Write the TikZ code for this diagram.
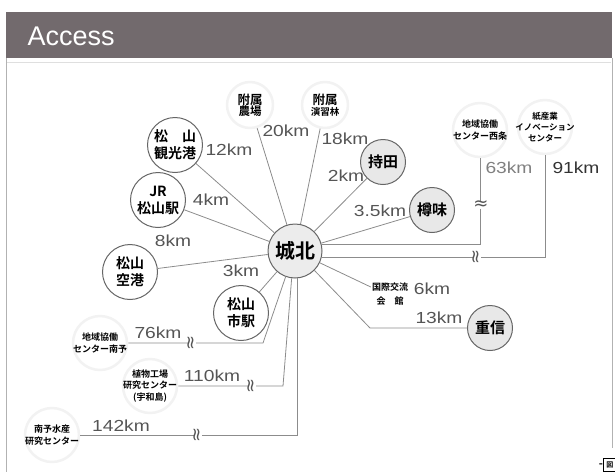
\documentclass[tikz,border=0pt]{standalone}
\usepackage{fontspec}
\setmainfont{Liberation Sans}
\newfontfamily\jp{Noto Sans CJK JP}[BoldFont={Noto Sans CJK JP Bold}]
\newfontfamily\kmfont{Liberation Sans}[FakeStretch=1.2]
\newfontfamily\sym{DejaVu Sans}
\definecolor{barcol}{HTML}{726A6D}
\definecolor{linecol}{HTML}{8C8C8C}
\definecolor{rimcol}{HTML}{666666}
\definecolor{labcol}{HTML}{555555}
\begin{document}
\begin{tikzpicture}[x=1pt,y=-1pt,
  station/.style={circle,draw=rimcol,line width=1pt,fill=white,minimum size=55pt,inner sep=0pt,align=center,font=\jp\bfseries\fontsize{14}{17}\selectfont},
  campus/.style={station,fill=gray!18,minimum size=45pt,font=\jp\bfseries\fontsize{15}{17}\selectfont},
  hub/.style={station,fill=gray!15,minimum size=54pt,font=\jp\bfseries\fontsize{20}{22}\selectfont},
  facility/.style={circle,draw=gray!10,line width=2.5pt,fill=white,minimum size=54pt,inner sep=0pt,align=center,font=\jp\bfseries\fontsize{9}{11.5}\selectfont},
  dist/.style={text=labcol,font=\kmfont\fontsize{16}{16}\selectfont,inner sep=0pt},
  link/.style={draw=linecol,line width=0.8pt},
  brk/.style={fill=white,inner sep=0pt,text=labcol,font=\sym\fontsize{18}{18}\selectfont}]
\useasboundingbox (0,0) rectangle (615,472);
% frame and title bar
\draw[gray!60,line width=0.8pt] (6,58) -- (6,472) (612,58) -- (612,448);
\draw[gray!25] (7,62) -- (611,62);
\fill[barcol] (6,12) rectangle (612,58);
\node[anchor=west,text=white,font=\fontsize{27}{27}\selectfont] (title) at (24,36) {Access};
\node[anchor=east,inner sep=0pt,font=\jp\bfseries\fontsize{11}{11}\selectfont] (fig) at (617,465) {-\fbox{\fontsize{7}{7}\selectfont 図}};

% campus and stations
\node[hub] (johoku) at (295,251) {城北};
\node[station] (kanko) at (175,145) {松　山\\観光港};
\node[station] (jr) at (158,200) {JR\\松山駅};
\node[station] (kuko) at (130,272) {松山\\空港};
\node[station] (shieki) at (241,313) {松山\\市駅};
\node[campus] (mochida) at (383,162) {持田};
\node[campus] (tarumi) at (432,210) {樽味};
\node[campus] (shigenobu) at (490,328) {重信};

% facilities
\node[facility,minimum size=46pt] (farm) at (250,105) {{\fontsize{12.5}{14}\selectfont 附属}\\{\fontsize{11.5}{13}\selectfont 農場}};
\node[facility,minimum size=46pt] (forest) at (325,105) {{\fontsize{12.5}{14}\selectfont 附属}\\{\fontsize{9.5}{11}\selectfont 演習林}};
\node[facility,inner sep=-3pt] (saijo) at (480,130) {地域協働\\センター西条};
\node[facility,inner sep=-7pt,font=\jp\bfseries\fontsize{8.5}{11}\selectfont] (paper) at (545,127) {紙産業\\イノベーション\\センター};
\node[facility,inner sep=-3pt] (nanyo) at (100,343) {地域協働\\センター南予};
\node[facility,inner sep=-5pt] (plant) at (150,386) {植物工場\\研究センター\\(宇和島)};
\node[facility,inner sep=-3pt] (suisan) at (52,435) {南予水産\\研究センター};
\node[align=center,inner sep=1pt,font=\jp\bfseries\fontsize{9}{14}\selectfont] (kokusai) at (390,294) {国際交流\\会　館};

% bends
\coordinate (sbend) at (370,328);
\coordinate (nbend) at (263,343);
\coordinate (pbend) at (283,386);

% connectors
\draw[link] (johoku) -- (kanko);
\draw[link] (johoku) -- (jr);
\draw[link] (johoku) -- (kuko);
\draw[link] (johoku) -- (shieki);
\draw[link] (johoku) -- (farm);
\draw[link] (johoku) -- (forest);
\draw[link] (johoku) -- (mochida);
\draw[link] (johoku) -- (tarumi);
\draw[link] (johoku) -- (kokusai.160);
\draw[link] (johoku.-45) -- (sbend) -- (shigenobu);
\draw[link] (johoku.13) -- (johoku.13 -| saijo.south) -- (saijo.south);
\draw[link] (johoku.-13) -- (johoku.-13 -| paper.south) -- (paper.south);
\draw[link] (johoku.250) -- (nbend) -- (nanyo);
\draw[link] (johoku.263) -- (pbend) -- (plant);
\draw[link] (johoku.275) -- (johoku.275 |- suisan) -- (suisan);

% breaks
\node[brk] (b1) at (481,205) {≈};
\node[brk,rotate=90] (b2) at (477,257) {≈};
\node[brk,rotate=90] (b3) at (192,343) {≈};
\node[brk,rotate=90] (b4) at (252,386) {≈};
\node[brk,rotate=90] (b5) at (198,435) {≈};

% distances
\node[dist] (d1) at (229,150) {12km};
\node[dist] (d2) at (286,131) {20km};
\node[dist] (d3) at (345,139) {18km};
\node[dist] (d4) at (346,176) {2km};
\node[dist] (d5) at (380,211) {3.5km};
\node[dist] (d6) at (211,200) {4km};
\node[dist] (d7) at (173,241) {8km};
\node[dist] (d8) at (241,271) {3km};
\node[dist] (d9) at (432,289) {6km};
\node[dist] (d10) at (439,318) {13km};
\node[dist,text=gray] (d11) at (509,168) {63km};
\node[dist,text=black!80] (d12) at (576,168) {91km};
\node[dist] (d13) at (158,333) {76km};
\node[dist] (d14) at (212,376) {110km};
\node[dist] (d15) at (121,426) {142km};
\end{tikzpicture}
\end{document}
